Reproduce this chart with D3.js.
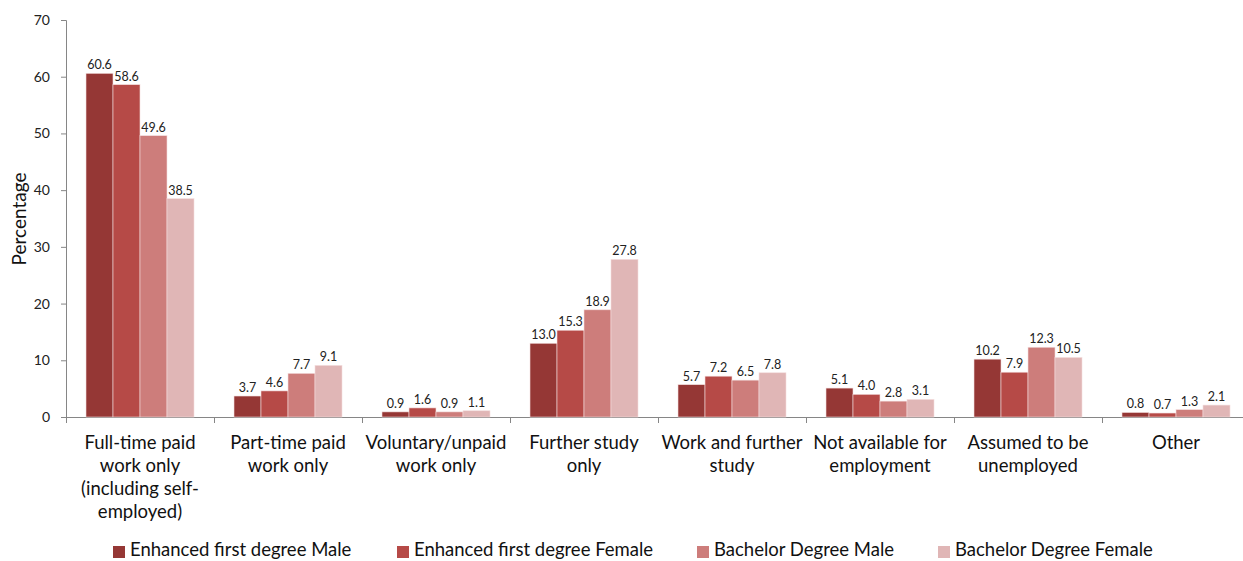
<!DOCTYPE html>
<html><head><meta charset="utf-8">
<script src="https://cdn.jsdelivr.net/npm/d3@7"></script>
<style>body{margin:0;background:#fff;} svg{display:block;font-family:Lato, "Open Sans", sans-serif;}</style>
</head><body>
<svg id="c" width="1243" height="561"></svg>
<script>
const categories = [
  ["Full-time paid","work only","(including self-","employed)"],
  ["Part-time paid","work only"],
  ["Voluntary/unpaid","work only"],
  ["Further study","only"],
  ["Work and further","study"],
  ["Not available for","employment"],
  ["Assumed to be","unemployed"],
  ["Other"]
];
const seriesNames = ["Enhanced first degree Male","Enhanced first degree Female","Bachelor Degree Male","Bachelor Degree Female"];
const efdMale   = [60.6, 3.7, 0.9, 13.0, 5.7, 5.1, 10.2, 0.8];
const efdFemale = [58.6, 4.6, 1.6, 15.3, 7.2, 4.0, 7.9, 0.7];
const bdMale    = [49.6, 7.7, 0.9, 18.9, 6.5, 2.8, 12.3, 1.3];
const bdFemale  = [38.5, 9.1, 1.1, 27.8, 7.8, 3.1, 10.5, 2.1];
const yTicks = [0,10,20,30,40,50,60,70];
const colors = ["#953735","#b64a47","#cd7d7b","#e0b6b6"];
const series = [efdMale, efdFemale, bdMale, bdFemale];

(function(){
const svg = d3.select("#c");
const mLeft = 66, mRight = 1250, mTop = 20, mBottom = 417;
const x0 = d3.scaleBand().domain(d3.range(categories.length)).range([mLeft, mRight]).paddingInner(0).paddingOuter(0);
const x1 = d3.scaleBand().domain(d3.range(4)).range([20, 128]).padding(0);
const y = d3.scaleLinear().domain([0,70]).range([mBottom, mTop]);
const axisCol = "#868686";

const ya = svg.append("g").attr("transform",`translate(${mLeft},0)`)
  .call(d3.axisLeft(y).tickValues(yTicks).tickSize(5).tickPadding(11).tickFormat(d3.format("d")));
ya.select(".domain").attr("stroke",axisCol);
ya.selectAll(".tick line").attr("stroke",axisCol);
ya.selectAll(".tick text").attr("fill","#222").style("font-size","14px").style("font-family","Lato, 'Open Sans', sans-serif");

svg.append("line").attr("x1",mLeft).attr("x2",mRight).attr("y1",mBottom+0.5).attr("y2",mBottom+0.5).attr("stroke",axisCol);
svg.selectAll(".xt").data(d3.range(categories.length+1)).join("line")
  .attr("x1",i=>Math.round(mLeft + i*x0.bandwidth())+0.5).attr("x2",i=>Math.round(mLeft + i*x0.bandwidth())+0.5)
  .attr("y1",mBottom).attr("y2",mBottom+6).attr("stroke",axisCol);

const g = svg.append("g");
categories.forEach((c,ci)=>{
  series.forEach((s,si)=>{
    const bx = x0(ci)+x1(si);
    g.append("rect").attr("x",bx).attr("y",y(s[ci])).attr("width",x1.bandwidth()).attr("height",y(0)-y(s[ci]))
      .attr("fill",colors[si]).attr("stroke","#f3dede").attr("stroke-width",0.6);
    g.append("text").attr("x",bx+x1.bandwidth()/2).attr("y",y(s[ci])-4).attr("text-anchor","middle")
      .style("font-size","12.5px").attr("fill","#222").text(s[ci].toFixed(1));
  });
  const t = svg.append("text").attr("text-anchor","middle").style("font-size","18.5px").attr("fill","#111");
  c.forEach((line,li)=>{
    t.append("tspan").attr("x",x0(ci)+x0.bandwidth()/2).attr("y",449+li*23).text(line);
  });
});

svg.append("text").attr("transform","translate(26,219) rotate(-90)").attr("text-anchor","middle")
  .style("font-size","19px").attr("fill","#111").text("Percentage");

const legX = [113, 397, 697, 938];
seriesNames.forEach((n,i)=>{
  svg.append("rect").attr("x",legX[i]).attr("y",546).attr("width",12).attr("height",12).attr("fill",colors[i]);
  svg.append("text").attr("x",legX[i]+17).attr("y",556).style("font-size","18.5px").attr("fill","#111").text(n);
});
})();
</script>
</body></html>
